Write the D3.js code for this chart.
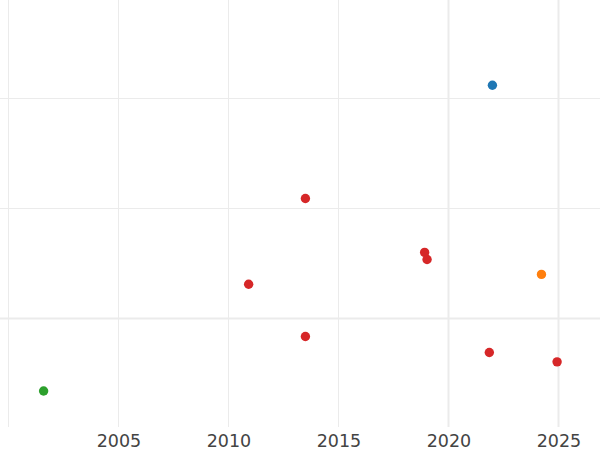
<!DOCTYPE html>
<html>
<head>
<meta charset="utf-8">
<script src="https://cdn.jsdelivr.net/npm/d3@7"></script>
<style>
  html, body { margin: 0; padding: 0; background: #fff; }
  svg { display: block; }
</style>
</head>
<body>
<svg id="chart" width="600" height="450"></svg>
<script>
// ---- data ----
const years   = [2022.0, 2024.23, 2001.6, 2013.5, 2018.92, 2019.03, 2010.92, 2013.5, 2021.86, 2024.94];
const values  = [2.12, 0.40, -0.66, 1.09, 0.60, 0.535, 0.31, -0.165, -0.31, -0.395];
const groups  = ["blue", "orange", "green", "red", "red", "red", "red", "red", "red", "red"];
const xTicks  = [2000, 2005, 2010, 2015, 2020, 2025];
const xTickLabels = ["", "2005", "2010", "2015", "2020", "2025"];
const yTicks  = [0, 1, 2];

const colorMap = { blue: "#1f77b4", orange: "#ff7f0e", green: "#2ca02c", red: "#d62728" };

const W = 600, H = 450, plotBottom = 427;
const svg = d3.select("#chart");

const x = d3.scaleLinear().domain([2000, 2025]).range([8.4, 558.4]);
const y = d3.scaleLinear().domain([0, 2]).range([318.4, 98.4]);

// grid
const g = svg.append("g");
g.selectAll("line.vx").data(xTicks).join("line")
  .attr("class", "vx")
  .attr("x1", d => Math.floor(x(d)) + 0.5).attr("x2", d => Math.floor(x(d)) + 0.5)
  .attr("y1", 0).attr("y2", plotBottom)
  .attr("stroke", "#ebebeb").attr("stroke-width", d => d >= 2020 ? 2 : 1);

g.selectAll("line.hy").data(yTicks).join("line")
  .attr("class", "hy")
  .attr("x1", 0).attr("x2", W)
  .attr("y1", d => Math.floor(y(d)) + 0.5).attr("y2", d => Math.floor(y(d)) + 0.5)
  .attr("stroke", "#ebebeb").attr("stroke-width", d => d === 0 ? 2 : 1);

// x tick labels via axis
const xAxis = d3.axisBottom(x).tickValues(xTicks)
  .tickFormat((d, i) => xTickLabels[i]).tickSize(0).tickPadding(0);
const ax = svg.append("g").attr("transform", `translate(0,${plotBottom})`).call(xAxis);
ax.select(".domain").remove();
ax.selectAll("text")
  .attr("dy", null).attr("y", 20)
  .style("font-family", "'DejaVu Sans', sans-serif")
  .style("font-size", "17.5px")
  .style("fill", "#444");

// points
const pts = years.map((yr, i) => ({ yr, v: values[i], c: groups[i] }));
svg.append("g").selectAll("circle").data(pts).join("circle")
  .attr("cx", d => x(d.yr)).attr("cy", d => y(d.v))
  .attr("r", 4.7)
  .attr("fill", d => colorMap[d.c]);
</script>
</body>
</html>
